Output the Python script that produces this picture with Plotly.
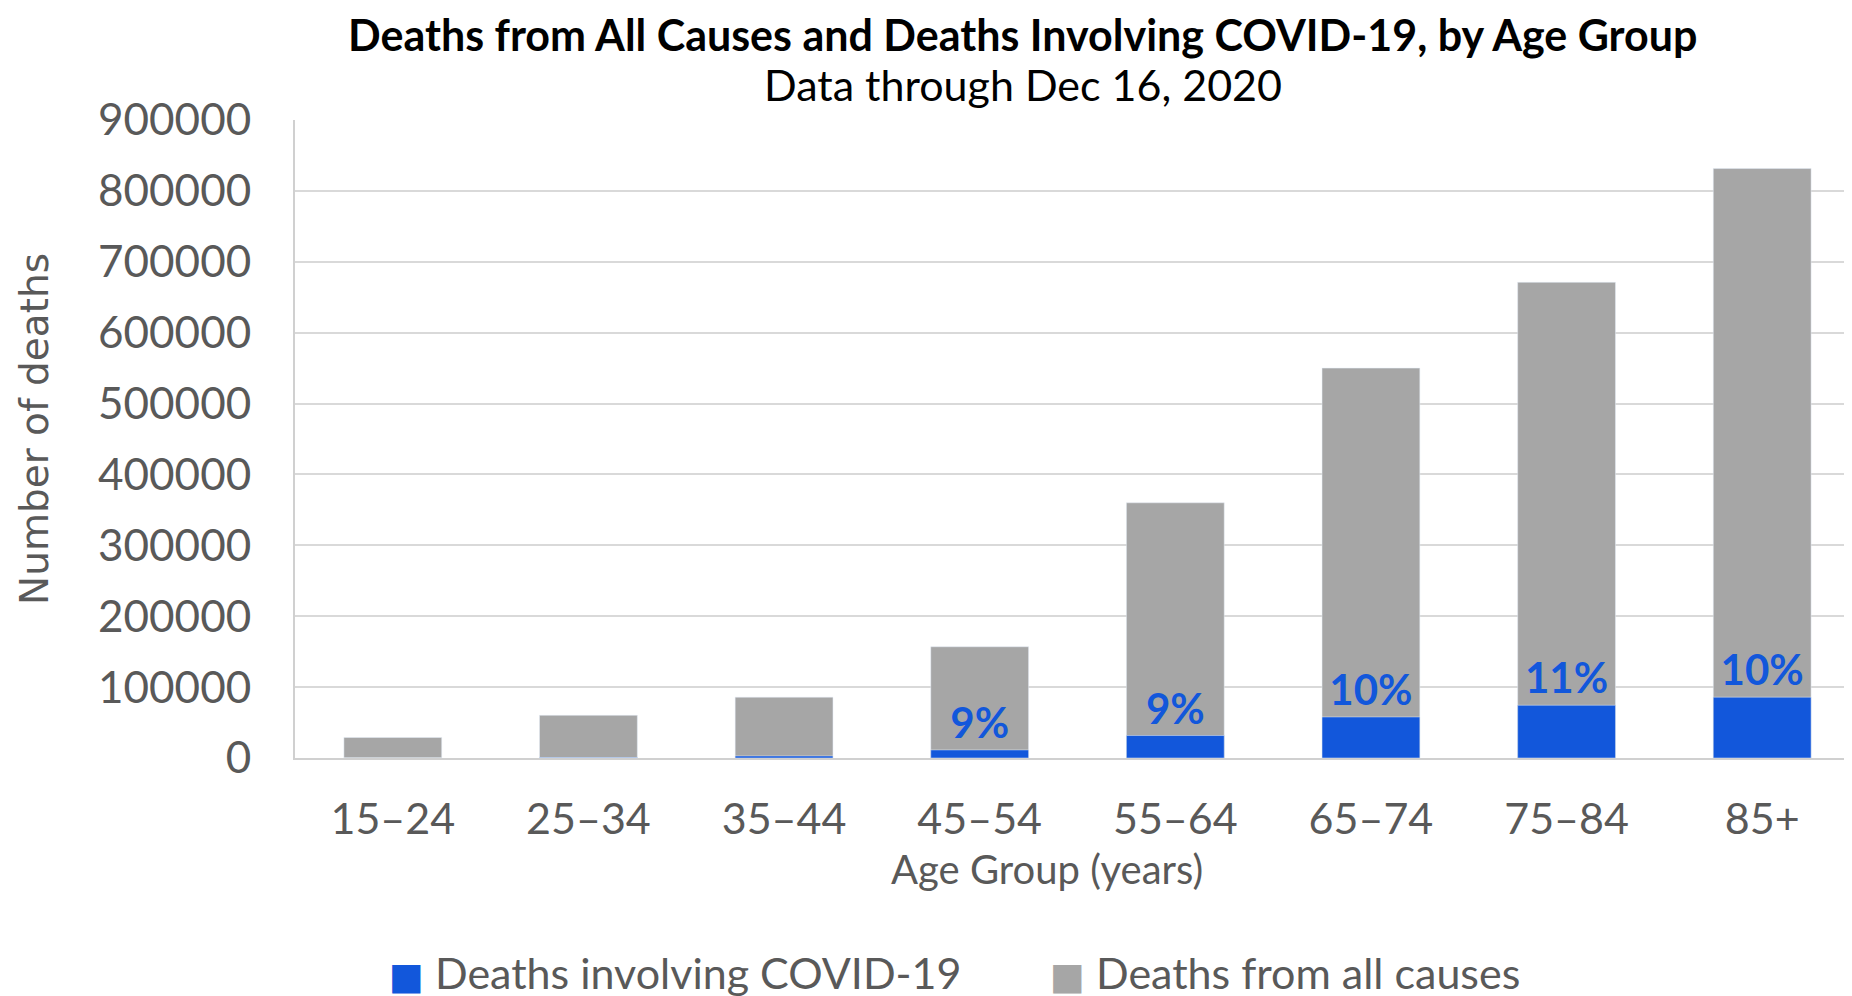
import plotly.graph_objects as go

age_groups = ["15–24", "25–34", "35–44", "45–54", "55–64", "65–74", "75–84", "85+"]
all_causes = [28900, 60200, 85800, 156900, 360000, 550000, 671000, 831500]
covid = [100, 700, 2900, 11400, 31700, 57900, 74400, 85800]
pct_labels = ["", "", "", "9%", "9%", "10%", "11%", "10%"]
y_ticks = [0, 100000, 200000, 300000, 400000, 500000, 600000, 700000, 800000, 900000]
series_names = ["Deaths involving COVID-19", "Deaths from all causes"]

BLUE = "#1257DB"
GRAY = "#A6A6A6"
TXT = "#595959"
FONT = "Lato"

fig = go.Figure()
fig.add_trace(go.Bar(
    x=age_groups, y=all_causes, name=series_names[1],
    marker=dict(color=GRAY), width=0.5, showlegend=False,
))
fig.add_trace(go.Bar(
    x=age_groups, y=covid, name=series_names[0],
    marker=dict(color=BLUE), width=0.5, showlegend=False,
    text=pct_labels, textposition="outside",
    textfont=dict(family=FONT, size=42, color=BLUE, weight="bold"),
    cliponaxis=False,
))

def legend_item(color, label, x):
    return dict(
        text=f"<span style='color:{color};font-family:DejaVu Sans;font-size:37px'>■</span> {label}",
        xref="paper", yref="paper", x=x, y=-0.336, xanchor="left", yanchor="middle",
        showarrow=False, font=dict(family=FONT, size=43, color=TXT))

fig.update_layout(
    width=1852, height=996,
    margin=dict(l=287, r=0, t=112, b=246),
    barmode="overlay",
    plot_bgcolor="white", paper_bgcolor="white",
    font=dict(family=FONT, color=TXT),
    showlegend=False,
    title=dict(text="<b>Deaths from All Causes and Deaths Involving COVID-19, by Age Group</b>",
               xref="paper", x=0.465, xanchor="center",
               yref="container", y=0.972, yanchor="middle",
               font=dict(family=FONT, size=43, color="black")),
    xaxis=dict(range=[-0.5, 7.5], showgrid=False, showline=True, linecolor="#D0D0D0", linewidth=2,
               tickfont=dict(family=FONT, size=43, color=TXT), ticks="", ticklabelstandoff=22,
               fixedrange=True),
    yaxis=dict(range=[0, 900000], tickvals=y_ticks, ticktext=[str(v) for v in y_ticks],
               showgrid=True, gridcolor="#D9D9D9", gridwidth=2, showline=True,
               linecolor="#D0D0D0", linewidth=2, zeroline=False,
               tickfont=dict(family=FONT, size=44, color=TXT), ticks="", ticklabelstandoff=33),
    annotations=[
        dict(text="Data through Dec 16, 2020",
             xref="paper", yref="paper", x=0.465, y=1.056, xanchor="center", yanchor="middle",
             showarrow=False, font=dict(family=FONT, size=43, color="black")),
        dict(text="Age Group (years)",
             xref="paper", yref="paper", x=0.4805, y=-0.174, xanchor="center", yanchor="middle",
             showarrow=False, font=dict(family=FONT, size=40, color=TXT)),
        dict(text="Number of deaths", textangle=-90,
             xref="paper", yref="paper", x=-0.166, y=0.516, xanchor="center", yanchor="middle",
             showarrow=False, font=dict(family="DejaVu Sans", size=39, color=TXT)),
        legend_item(BLUE, series_names[0], 0.059),
        legend_item(GRAY, series_names[1], 0.481),
    ],
)

fig.write_html("out.html")
